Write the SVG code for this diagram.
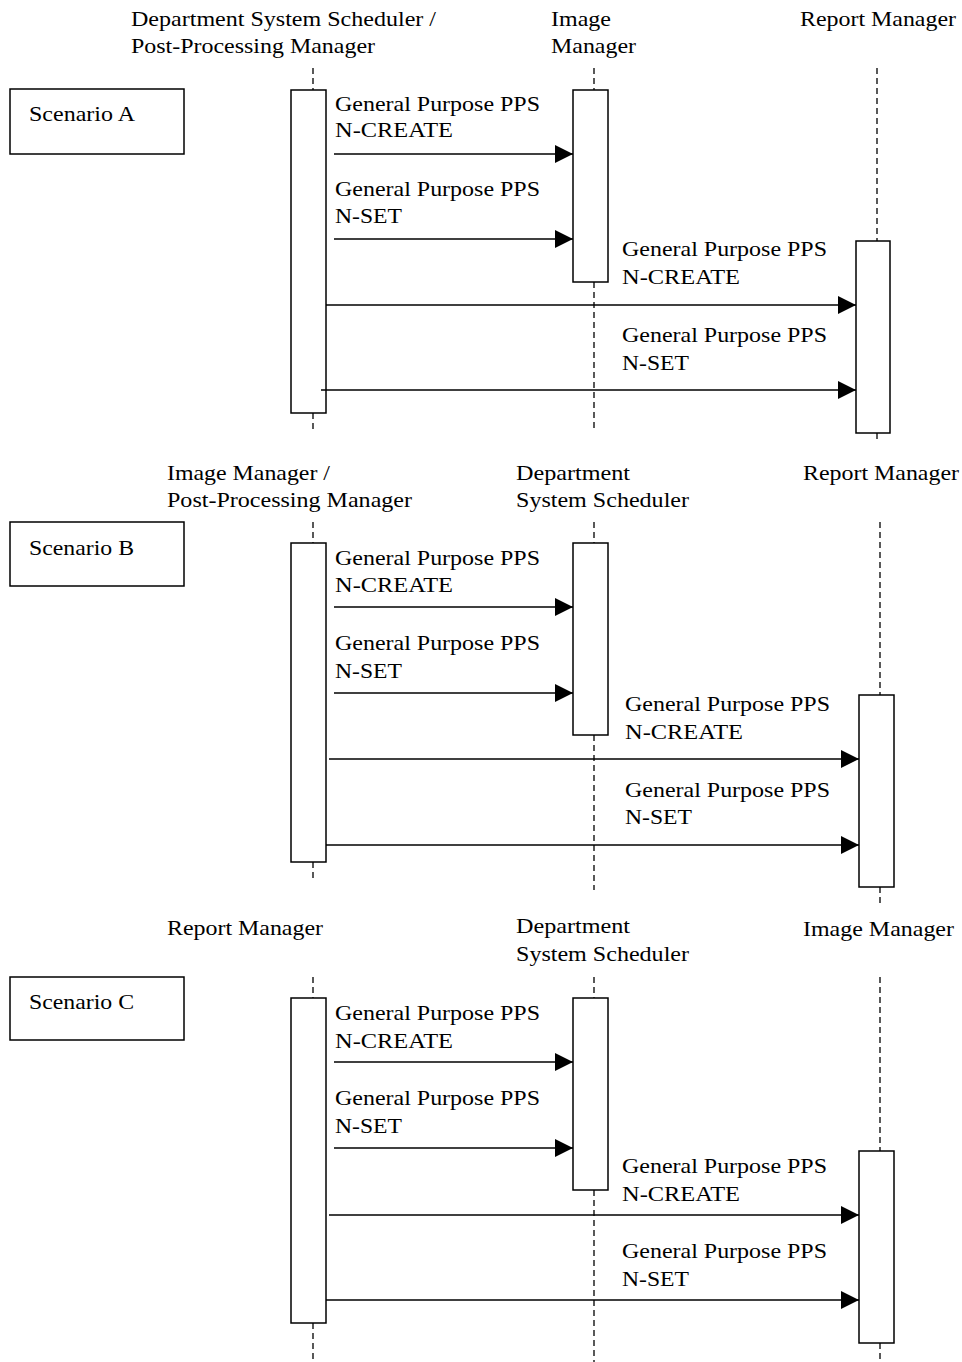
<svg xmlns="http://www.w3.org/2000/svg" width="962" height="1362" viewBox="0 0 962 1362">
<style>
text{font-family:"Liberation Serif","Times New Roman",serif;font-size:21px;fill:#000}
text.sc{font-size:22px}
.box{fill:#fff;stroke:#000;stroke-width:1.5}
.life{stroke:#000;stroke-width:1.3;stroke-dasharray:6,4;fill:none}
.msg{stroke:#000;stroke-width:1.5;fill:none;marker-end:url(#ah)}
</style>
<defs>
<marker id="ah" markerUnits="userSpaceOnUse" markerWidth="18" markerHeight="18" refX="18" refY="9" orient="auto" viewBox="0 0 18 18">
<path d="M0,0 L18,9 L0,18 z" fill="#000"/>
</marker>
</defs>
<rect width="962" height="1362" fill="#fff"/>

<!-- Scenario A -->
<g id="scenarioA">
<rect class="box" x="10" y="89" width="174" height="65"/>
<text class="sc" x="29" y="121" textLength="106" lengthAdjust="spacingAndGlyphs">Scenario A</text>
</g>
<g id="A-dss">
<text x="131" y="26" textLength="305" lengthAdjust="spacingAndGlyphs">Department System Scheduler /</text>
<text x="131" y="53" textLength="244" lengthAdjust="spacingAndGlyphs">Post-Processing Manager</text>
<line class="life" x1="313" y1="68" x2="313" y2="90"/>
<line class="life" x1="313" y1="413" x2="313" y2="430"/>
<rect class="box" x="291" y="90" width="35" height="323"/>
</g>
<g id="A-im">
<text x="551" y="26" textLength="60" lengthAdjust="spacingAndGlyphs">Image</text>
<text x="551" y="53" textLength="85" lengthAdjust="spacingAndGlyphs">Manager</text>
<line class="life" x1="594" y1="68" x2="594" y2="90"/>
<line class="life" x1="594" y1="282" x2="594" y2="430"/>
<rect class="box" x="573" y="90" width="35" height="192"/>
</g>
<g id="A-rm">
<text x="800" y="26" textLength="156" lengthAdjust="spacingAndGlyphs">Report Manager</text>
<line class="life" x1="877" y1="68" x2="877" y2="241"/>
<line class="life" x1="877" y1="433" x2="877" y2="442"/>
<rect class="box" x="856" y="241" width="34" height="192"/>
</g>
<g id="A-connectors">
<line class="msg" x1="334" y1="154" x2="573" y2="154"/>
<text x="335" y="111" textLength="205" lengthAdjust="spacingAndGlyphs">General Purpose PPS</text>
<text x="335" y="137" textLength="118" lengthAdjust="spacingAndGlyphs">N-CREATE</text>
<line class="msg" x1="334" y1="239" x2="573" y2="239"/>
<text x="335" y="196" textLength="205" lengthAdjust="spacingAndGlyphs">General Purpose PPS</text>
<text x="335" y="223" textLength="67" lengthAdjust="spacingAndGlyphs">N-SET</text>
<line class="msg" x1="326" y1="305" x2="856" y2="305"/>
<text x="622" y="256" textLength="205" lengthAdjust="spacingAndGlyphs">General Purpose PPS</text>
<text x="622" y="284" textLength="118" lengthAdjust="spacingAndGlyphs">N-CREATE</text>
<line class="msg" x1="321" y1="390" x2="856" y2="390"/>
<text x="622" y="342" textLength="205" lengthAdjust="spacingAndGlyphs">General Purpose PPS</text>
<text x="622" y="370" textLength="67" lengthAdjust="spacingAndGlyphs">N-SET</text>
</g>

<!-- Scenario B -->
<g id="scenarioB">
<rect class="box" x="10" y="522" width="174" height="64"/>
<text class="sc" x="29" y="555" textLength="105" lengthAdjust="spacingAndGlyphs">Scenario B</text>
</g>
<g id="B-im">
<text x="167" y="480" textLength="163" lengthAdjust="spacingAndGlyphs">Image Manager /</text>
<text x="167" y="507" textLength="245" lengthAdjust="spacingAndGlyphs">Post-Processing Manager</text>
<line class="life" x1="313" y1="522" x2="313" y2="543"/>
<line class="life" x1="313" y1="862" x2="313" y2="882"/>
<rect class="box" x="291" y="543" width="35" height="319"/>
</g>
<g id="B-dss">
<text x="516" y="480" textLength="114" lengthAdjust="spacingAndGlyphs">Department</text>
<text x="516" y="507" textLength="173" lengthAdjust="spacingAndGlyphs">System Scheduler</text>
<line class="life" x1="594" y1="522" x2="594" y2="543"/>
<line class="life" x1="594" y1="735" x2="594" y2="890"/>
<rect class="box" x="573" y="543" width="35" height="192"/>
</g>
<g id="B-rm">
<text x="803" y="480" textLength="156" lengthAdjust="spacingAndGlyphs">Report Manager</text>
<line class="life" x1="880" y1="522" x2="880" y2="695"/>
<line class="life" x1="880" y1="887" x2="880" y2="906"/>
<rect class="box" x="859" y="695" width="35" height="192"/>
</g>
<g id="B-connectors">
<line class="msg" x1="334" y1="607" x2="573" y2="607"/>
<text x="335" y="565" textLength="205" lengthAdjust="spacingAndGlyphs">General Purpose PPS</text>
<text x="335" y="592" textLength="118" lengthAdjust="spacingAndGlyphs">N-CREATE</text>
<line class="msg" x1="334" y1="693" x2="573" y2="693"/>
<text x="335" y="650" textLength="205" lengthAdjust="spacingAndGlyphs">General Purpose PPS</text>
<text x="335" y="678" textLength="67" lengthAdjust="spacingAndGlyphs">N-SET</text>
<line class="msg" x1="329" y1="759" x2="859" y2="759"/>
<text x="625" y="711" textLength="205" lengthAdjust="spacingAndGlyphs">General Purpose PPS</text>
<text x="625" y="739" textLength="118" lengthAdjust="spacingAndGlyphs">N-CREATE</text>
<line class="msg" x1="326" y1="845" x2="859" y2="845"/>
<text x="625" y="797" textLength="205" lengthAdjust="spacingAndGlyphs">General Purpose PPS</text>
<text x="625" y="824" textLength="67" lengthAdjust="spacingAndGlyphs">N-SET</text>
</g>

<!-- Scenario C -->
<g id="scenarioC">
<rect class="box" x="10" y="977" width="174" height="63"/>
<text class="sc" x="29" y="1009" textLength="105" lengthAdjust="spacingAndGlyphs">Scenario C</text>
</g>
<g id="C-rm">
<text x="167" y="935" textLength="156" lengthAdjust="spacingAndGlyphs">Report Manager</text>
<line class="life" x1="313" y1="977" x2="313" y2="998"/>
<line class="life" x1="313" y1="1323" x2="313" y2="1362"/>
<rect class="box" x="291" y="998" width="35" height="325"/>
</g>
<g id="C-dss">
<text x="516" y="933" textLength="114" lengthAdjust="spacingAndGlyphs">Department</text>
<text x="516" y="961" textLength="173" lengthAdjust="spacingAndGlyphs">System Scheduler</text>
<line class="life" x1="594" y1="977" x2="594" y2="998"/>
<line class="life" x1="594" y1="1190" x2="594" y2="1362"/>
<rect class="box" x="573" y="998" width="35" height="192"/>
</g>
<g id="C-im">
<text x="803" y="936" textLength="151" lengthAdjust="spacingAndGlyphs">Image Manager</text>
<line class="life" x1="880" y1="977" x2="880" y2="1151"/>
<line class="life" x1="880" y1="1343" x2="880" y2="1362"/>
<rect class="box" x="859" y="1151" width="35" height="192"/>
</g>
<g id="C-connectors">
<line class="msg" x1="334" y1="1062" x2="573" y2="1062"/>
<text x="335" y="1020" textLength="205" lengthAdjust="spacingAndGlyphs">General Purpose PPS</text>
<text x="335" y="1048" textLength="118" lengthAdjust="spacingAndGlyphs">N-CREATE</text>
<line class="msg" x1="334" y1="1148" x2="573" y2="1148"/>
<text x="335" y="1105" textLength="205" lengthAdjust="spacingAndGlyphs">General Purpose PPS</text>
<text x="335" y="1133" textLength="67" lengthAdjust="spacingAndGlyphs">N-SET</text>
<line class="msg" x1="329" y1="1215" x2="859" y2="1215"/>
<text x="622" y="1173" textLength="205" lengthAdjust="spacingAndGlyphs">General Purpose PPS</text>
<text x="622" y="1201" textLength="118" lengthAdjust="spacingAndGlyphs">N-CREATE</text>
<line class="msg" x1="326" y1="1300" x2="859" y2="1300"/>
<text x="622" y="1258" textLength="205" lengthAdjust="spacingAndGlyphs">General Purpose PPS</text>
<text x="622" y="1286" textLength="67" lengthAdjust="spacingAndGlyphs">N-SET</text>
</g>
</svg>
